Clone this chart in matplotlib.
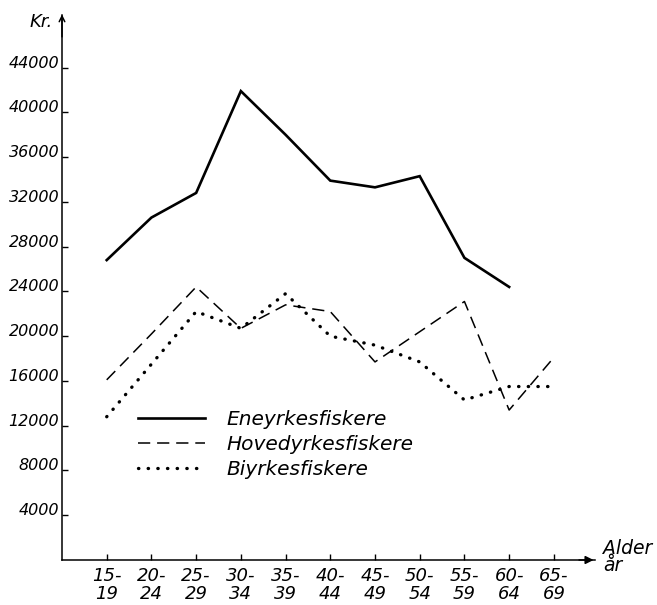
import matplotlib
matplotlib.use("Agg")
import matplotlib.pyplot as plt
import matplotlib.transforms as mtransforms
import numpy as np

age_groups = ["15-\n19", "20-\n24", "25-\n29", "30-\n34", "35-\n39", "40-\n44",
              "45-\n49", "50-\n54", "55-\n59", "60-\n64", "65-\n69"]
eneyrkes = [26800, 30600, 32800, 41900, 38000, 33900, 33300, 34300, 27000, 24400]
hovedyrkes = [16100, 20200, 24400, 20700, 22800, 22200, 17700, 20400, 23100, 13400, 18100]
biyrkes = [12800, 17500, 22200, 20700, 23800, 20000, 19200, 17700, 14300, 15500, 15500]
y_ticks = [4000, 8000, 12000, 16000, 20000, 24000, 28000, 32000, 36000, 40000, 44000]
series_names = ["Eneyrkesfiskere", "Hovedyrkesfiskere", "Biyrkesfiskere"]

W, H = 657, 605
fig = plt.figure(figsize=(W / 100, H / 100), dpi=100)
ax = fig.add_axes([62 / W, 1 - 560 / H, (595 - 62) / W, (560 - 15) / H])
ax.set_xlim(0, 11.92)
ax.set_ylim(0, 48700)

x = np.arange(1, len(age_groups) + 1)
font = dict(family="DejaVu Sans", style="italic")

l1, = ax.plot(x[:len(eneyrkes)], eneyrkes, color="black", lw=1.9, solid_joinstyle="miter")
l2, = ax.plot(x[:len(hovedyrkes)], hovedyrkes, color="black", lw=1.1, linestyle=(0, (8, 4.5)))
l3, = ax.plot(x[:len(biyrkes)], biyrkes, color="black", lw=2.4, linestyle=(0, (0.1, 2.8)),
              dash_capstyle="round")

for s in ["top", "right"]:
    ax.spines[s].set_visible(False)
for s in ["left", "bottom"]:
    ax.spines[s].set_linewidth(1.1)

# axis arrows
ax.annotate("", xy=(11.95, 0), xytext=(11.5, 0), xycoords="data",
            arrowprops=dict(arrowstyle="-|>", color="black", lw=1.1, mutation_scale=12),
            annotation_clip=False)
ax.annotate("", xy=(0, 49000), xytext=(0, 46500), xycoords="data",
            arrowprops=dict(arrowstyle="->", color="black", lw=1.1, mutation_scale=10),
            annotation_clip=False)

ax.set_yticks(y_ticks)
ax.set_yticklabels([str(v) for v in y_ticks], fontsize=11.5, **font)
ax.set_xticks(x)
ax.set_xticklabels(age_groups, fontsize=13, linespacing=1.0, **font)
ax.tick_params(axis="y", direction="in", length=4, width=1, pad=2)
ax.tick_params(axis="x", direction="in", length=4, width=1, pad=5)
shift = mtransforms.ScaledTranslation(0, 6 / 100, fig.dpi_scale_trans)
for lab in ax.get_yticklabels():
    lab.set_transform(lab.get_transform() + shift)

fig.text(30 / W, 1 - 22 / H, "Kr.", fontsize=13, va="center", ha="left", **font)
fig.text(603 / W, 1 - 557 / H, "Alder\når", fontsize=13.5, va="center", ha="left",
         linespacing=0.85, **font)

leg = ax.legend([l1, l2, l3], series_names, loc="upper left",
                bbox_to_anchor=(128 / W, 1 - 400 / H), bbox_transform=fig.transFigure,
                frameon=False, prop=dict(family="DejaVu Sans", style="italic", size=14.5),
                handlelength=3.3, handletextpad=1.1, labelspacing=0.3, borderpad=0)

fig.savefig("out.png", dpi=100)
